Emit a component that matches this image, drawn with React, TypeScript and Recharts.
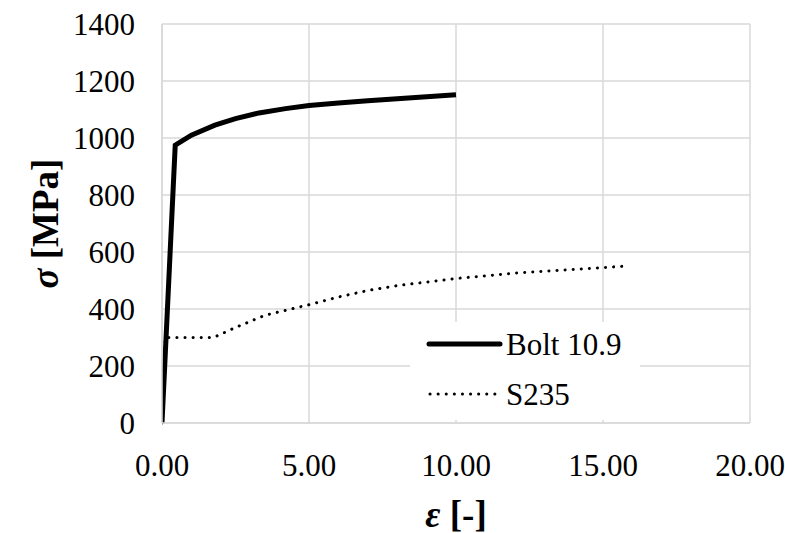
import React from 'react';
import { LineChart, Line, XAxis, YAxis, CartesianGrid, Legend } from 'recharts';

const boltStrain = [0, 0.45, 1.0, 1.8, 2.5, 3.3, 4.2, 5.0, 6.0, 7.0, 8.0, 9.0, 10.0];
const boltStress = [0, 975, 1010, 1045, 1068, 1088, 1103, 1114, 1123, 1131, 1138, 1145, 1152];

const s235Strain = [0, 0.11, 1.75, 2.5, 3.5, 5.0, 6.0, 7.0, 8.0, 10.0, 12.0, 14.0, 15.7];
const s235Stress = [0, 300, 300, 335, 378, 415, 442, 465, 482, 507, 526, 539, 550];

const xTicks = [0, 5, 10, 15, 20];
const yTicks = [0, 200, 400, 600, 800, 1000, 1200, 1400];

const boltData = boltStrain.map((x, i) => ({ x, y: boltStress[i] }));
const s235Data = s235Strain.map((x, i) => ({ x, y: s235Stress[i] }));

const FONT = 'Liberation Serif';
const fontStyle = { fontFamily: FONT };

const YTitle = (props: any) => {
  const vb = props.viewBox || {};
  const cx = vb.x + 45;
  const cy = vb.y + vb.height / 2;
  return (
    <text x={cx} y={cy} transform={`rotate(-90 ${cx} ${cy})`} textAnchor="middle" dominantBaseline="central"
      style={fontStyle} fontSize={37} fontWeight="bold" fill="#000">
      <tspan fontStyle="italic">σ</tspan>
      <tspan> [MPa]</tspan>
    </text>
  );
};

const XTitle = (props: any) => {
  const vb = props.viewBox || {};
  const cx = vb.x + vb.width / 2;
  const cy = vb.y + 91;
  return (
    <text x={cx} y={cy} textAnchor="middle" dominantBaseline="central"
      style={fontStyle} fontSize={37} fontWeight="bold" fill="#000">
      <tspan fontStyle="italic">ε</tspan>
      <tspan> [-]</tspan>
    </text>
  );
};

const LegendBox = () => (
  <svg width={230} height={98} style={{ display: 'block' }}>
    <rect x={0} y={0} width={230} height={98} fill="#fff" />
    <line x1={19} x2={90} y1={22} y2={22} stroke="#000" strokeWidth={5} strokeLinecap="round" />
    <text x={96} y={22} dominantBaseline="central" style={fontStyle} fontSize={31} fill="#000">Bolt 10.9</text>
    <line x1={20} x2={90} y1={72} y2={72} stroke="#000" strokeWidth={3} strokeLinecap="round" strokeDasharray="0.1 8" />
    <text x={96} y={72} dominantBaseline="central" style={fontStyle} fontSize={31} fill="#000">S235</text>
  </svg>
);

export default function App() {
  return (
    <div style={{ position: 'absolute', left: 0, top: 0, background: '#fff', fontFamily: FONT }}>
      <LineChart width={785} height={533} margin={{ top: 24, right: 35, bottom: 0, left: 0 }} style={fontStyle}>
        <CartesianGrid stroke="#d9d9d9" strokeWidth={1.5} />
        <XAxis
          type="number"
          dataKey="x"
          domain={[0, 20]}
          ticks={xTicks}
          tickFormatter={(v: number) => v.toFixed(2)}
          height={110}
          tickLine={false}
          tickSize={0}
          tickMargin={31}
          axisLine={{ stroke: '#d9d9d9', strokeWidth: 1.5 }}
          tick={{ fontFamily: FONT, fontSize: 31, fill: '#000', style: fontStyle }}
          allowDataOverflow
          label={<XTitle />}
        />
        <YAxis
          type="number"
          dataKey="y"
          domain={[0, 1400]}
          ticks={yTicks}
          width={162}
          tickLine={false}
          tickSize={0}
          tickMargin={27}
          axisLine={{ stroke: '#d9d9d9', strokeWidth: 1.5 }}
          tick={{ fontFamily: FONT, fontSize: 31, fill: '#000', style: fontStyle }}
          label={<YTitle />}
        />
        <Legend
          layout="vertical"
          align="center"
          verticalAlign="middle"
          content={() => <LegendBox />}
          wrapperStyle={{ position: 'absolute', left: 410, top: 322, width: 230, height: 98 }}
        />
        <Line data={s235Data} dataKey="y" name="S235" type="linear" stroke="#000" strokeWidth={3}
          strokeLinecap="round" strokeDasharray="0.1 8" dot={false} isAnimationActive={false} />
        <Line data={boltData} dataKey="y" name="Bolt 10.9" type="linear" stroke="#000" strokeWidth={5}
          strokeLinejoin="miter" dot={false} isAnimationActive={false} />
      </LineChart>
    </div>
  );
}
